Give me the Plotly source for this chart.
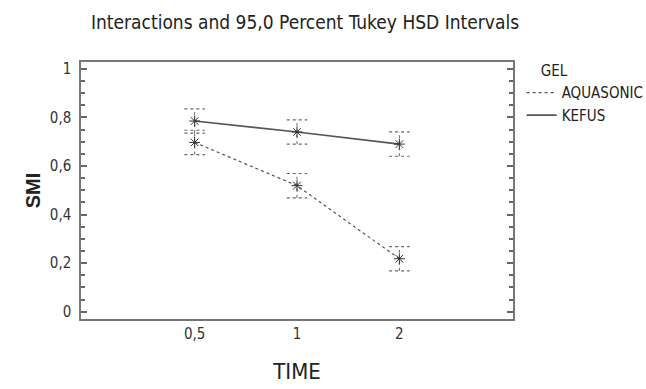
import plotly.graph_objects as go

time_labels = ["0,5", "1", "2"]
time_pos = [0, 1, 2]
aquasonic = [0.697, 0.519, 0.218]
kefus = [0.785, 0.74, 0.69]
half_interval = 0.05
cap_half = 0.1

NARROW = "Liberation Sans Narrow, DejaVu Sans Condensed, Arial Narrow, sans-serif"
LINE_C = "#555555"

fig = go.Figure()


def err_traces(xs, ys):
    vx, vy, cx, cy = [], [], [], []
    for x, y in zip(xs, ys):
        lo, hi = y - half_interval, y + half_interval
        vx += [x, x, None]
        vy += [lo, hi, None]
        cx += [x - cap_half, x + cap_half, None, x - cap_half, x + cap_half, None]
        cy += [lo, lo, None, hi, hi, None]
    fig.add_trace(go.Scatter(x=vx, y=vy, mode="lines", showlegend=False, hoverinfo="skip",
                             line=dict(color="#666666", width=1, dash="dot")))
    fig.add_trace(go.Scatter(x=cx, y=cy, mode="lines", showlegend=False, hoverinfo="skip",
                             line=dict(color="#666666", width=1.2, dash="dot")))


err_traces(time_pos, aquasonic)
err_traces(time_pos, kefus)

series = [("AQUASONIC", aquasonic, dict(color=LINE_C, width=1.2, dash="dot")),
          ("KEFUS", kefus, dict(color=LINE_C, width=1.6))]
for name, vals, line in series:
    fig.add_trace(go.Scatter(x=time_pos, y=vals, name=name, mode="lines+markers", showlegend=False,
                             line=line,
                             marker=dict(symbol="asterisk-open", size=9, color="#333333",
                                         line=dict(width=1, color="#333333"))))
for name, vals, line in series:
    fig.add_trace(go.Scatter(x=[None], y=[None], name=name, mode="lines", line=line))

fig.update_layout(
    width=646, height=389,
    margin=dict(l=81, r=133, t=62, b=70, autoexpand=False),
    paper_bgcolor="white", plot_bgcolor="white",
    title=dict(text="Interactions and 95,0 Percent Tukey HSD Intervals",
               x=305 / 646, xanchor="center", y=1 - 22 / 389, yanchor="middle",
               font=dict(family=NARROW, size=19, color="#222222")),
    legend=dict(title=dict(text="&nbsp;&nbsp;&nbsp;&nbsp;GEL", font=dict(family=NARROW, size=15, color="#222222")),
                x=1.02, xanchor="left", y=1.02, yanchor="top",
                font=dict(family=NARROW, size=15, color="#222222"),
                bgcolor="rgba(0,0,0,0)", itemwidth=30, tracegroupgap=0),
    showlegend=True,
)

fig.update_xaxes(
    range=[-1.11, 3.11], tickmode="array", tickvals=time_pos, ticktext=time_labels,
    showgrid=False, zeroline=False, showline=True, linecolor="#777777", linewidth=1.5,
    mirror=True, ticks="", automargin=False,
    tickfont=dict(family=NARROW, size=15, color="#333333"),
    title=dict(text="TIME", font=dict(family=NARROW, size=22, color="#222222"), standoff=22),
)
fig.update_yaxes(
    range=[-0.03, 1.028], tickmode="array", tickvals=[0, 0.2, 0.4, 0.6, 0.8, 1],
    ticktext=["0", "0,2", "0,4", "0,6", "0,8", "1"],
    showgrid=False, zeroline=False, showline=True, linecolor="#777777", linewidth=1.5,
    mirror="allticks", ticks="inside", ticklen=6, tickcolor="#666666", tickwidth=1.5,
    automargin=False, ticklabelstandoff=5,
    minor=dict(ticks="inside", dtick=0.05, tick0=0, ticklen=4, tickcolor="#666666", tickwidth=1.5),
    tickfont=dict(family=NARROW, size=15, color="#333333"),
    title=dict(text="<b>SMI</b>", font=dict(family="Liberation Sans, Arial, sans-serif", size=20, color="#222222"),
               standoff=4),
)

fig.write_html("out.html", config={"displayModeBar": False},
               post_script="document.body.style.margin='0';")
